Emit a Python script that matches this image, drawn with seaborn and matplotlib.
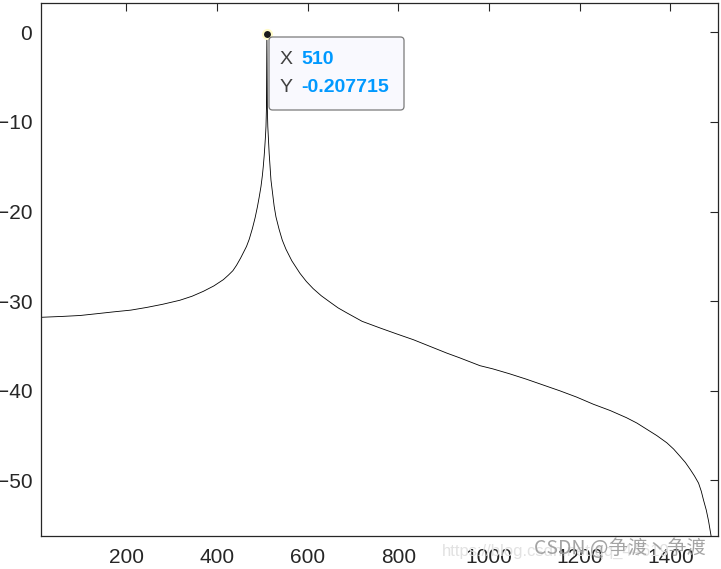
import matplotlib
matplotlib.use("Agg")
import matplotlib.pyplot as plt
from matplotlib.patches import FancyBboxPatch
import seaborn as sns

# values (x index, magnitude in dB)
freq = [12.5, 60, 98, 135, 171, 210, 245, 280, 318, 345, 370, 393, 414, 425,
        435, 443, 452, 465, 471, 478, 484, 489, 493, 497, 500, 502, 504, 505.5,
        507, 508, 509, 510, 511, 512, 515, 519, 526, 530, 537, 544, 552, 565,
        583, 597, 612, 630, 649, 667, 686, 720, 760, 796, 833, 870, 907, 934,
        980, 1008, 1045, 1082, 1119, 1156, 1193, 1230, 1267, 1303, 1326, 1348,
        1370, 1392, 1407, 1421, 1433, 1444, 1453, 1462, 1468, 1473, 1479, 1484,
        1490, 1497]
mag_db = [-31.8, -31.7, -31.6, -31.4, -31.2, -31.0, -30.7, -30.35, -29.9,
          -29.45, -28.9, -28.3, -27.6, -27.1, -26.6, -26.0, -25.2, -23.9, -23.1,
          -21.9, -20.7, -19.5, -18.4, -17.2, -16.0, -15.0, -13.8, -12.7, -11.5,
          -10.5, -8.5, -0.207715, -8.5, -10.5, -13.5, -16.5, -19.4, -20.6,
          -22.0, -23.2, -24.2, -25.5, -26.9, -27.8, -28.6, -29.4, -30.1, -30.75,
          -31.3, -32.25, -33.0, -33.65, -34.3, -35.05, -35.8, -36.3, -37.2,
          -37.55, -38.1, -38.7, -39.35, -40.0, -40.7, -41.5, -42.2, -43.0,
          -43.6, -44.3, -45.0, -45.8, -46.5, -47.3, -48.0, -48.8, -49.5, -50.3,
          -51.2, -52.2, -53.3, -54.5, -56.3, -60.0]

tip_x = 510
tip_y = -0.207715

x_ticks = [200, 400, 600, 800, 1000, 1200, 1400]
y_ticks = [0, -10, -20, -30, -40, -50]

sns.set_style("white")
plt.rcParams['font.family'] = ['Liberation Sans', 'DejaVu Sans']

fig = plt.figure(figsize=(7.21, 5.69), dpi=100)
ax = fig.add_axes([0.0573, 0.058, 0.9386, 0.9373])

sns.lineplot(x=freq, y=mag_db, color='black', linewidth=0.6, ax=ax)

ax.set_xlim(12.5, 1505)
ax.set_ylim(-56.2, 3.3)
ax.set_xticks(x_ticks)
ax.set_yticks(y_ticks)

dark = '#262626'
for s in ax.spines.values():
    s.set_color(dark)
    s.set_linewidth(0.9)
ax.tick_params(direction='in', length=6, width=0.8, colors=dark,
               labelsize=15, top=True, right=True)
ax.tick_params(axis='x', pad=8.5)
ax.tick_params(axis='y', pad=6.5)

# data tip
ax.plot([tip_x], [tip_y], 'o', ms=6.5, mfc='#1a1a1a', mec='#fffbc8', mew=1.5,
        zorder=5)
box = FancyBboxPatch((269 / 721, 1 - 110 / 569), (404 - 269) / 721,
                     (110 - 37) / 569,
                     boxstyle="round,pad=0,rounding_size=0.005",
                     mutation_aspect=721 / 569,
                     transform=fig.transFigure, facecolor='#f9f9fe',
                     edgecolor='#7a7a7a', linewidth=0.9, zorder=6)
fig.patches.append(box)
fig.text(280 / 721, 1 - 60 / 569, "X", color='#404040', fontsize=14,
         va='center', ha='left', zorder=7)
fig.text(301 / 721, 1 - 60 / 569, str(tip_x), color='#0099ff', fontsize=14,
         fontweight='bold', va='center', ha='left', zorder=7)
fig.text(280 / 721, 1 - 88 / 569, "Y", color='#404040', fontsize=14,
         va='center', ha='left', zorder=7)
fig.text(301 / 721, 1 - 88 / 569, f"{tip_y:g}", color='#0099ff', fontsize=14,
         fontweight='bold', va='center', ha='left', zorder=7)

# watermark
fig.text(442 / 721, 1 - 551 / 569, "https://blog.csdn.net/qq_44619",
         color='#e2e2e2', fontsize=12, va='center', ha='left', zorder=8)
fig.text(534 / 721, 1 - 549 / 569, "CSDN @争渡丶争渡", color='#9a9a9a',
         fontsize=14, va='center', ha='left', alpha=0.9, zorder=9,
         family=['Noto Sans CJK SC', 'DejaVu Sans'])

fig.savefig('out.png', dpi=100)
